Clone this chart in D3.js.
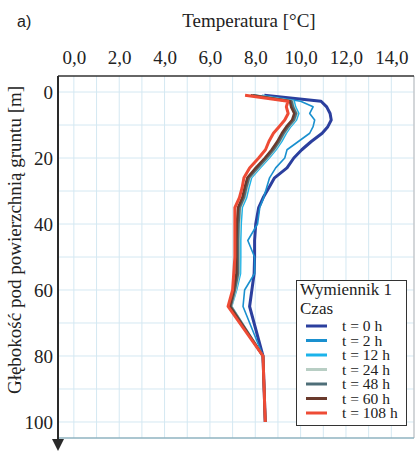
<!DOCTYPE html>
<html>
<head>
<meta charset="utf-8">
<script src="https://cdn.jsdelivr.net/npm/d3@7"></script>
<style>
  body { margin: 0; background: #fff; }
  svg { display: block; }
  text { font-family: "Liberation Serif", "Times New Roman", Times, serif; fill: #222; }
  text.sans { font-family: "Liberation Sans", Arial, sans-serif; }
</style>
</head>
<body>
<div id="chart"></div>
<script>
// depths [m] at which temperature was measured
const depths = [1, 2.8, 4.5, 6.5, 8.5, 10.5, 12.5, 15, 17.5, 20, 23, 26, 29, 32, 35, 40, 45, 50, 55, 60, 65, 80, 100];

// temperature [°C] per series
const t0h   = [8.4, 10.9, 11.15, 11.3, 11.35, 11.2, 10.95, 10.47, 10.05, 9.7, 9.4, 8.85, 8.6, 8.35, 8.15, 8.02, 7.97, 7.97, 7.95, 7.85, 7.75, 8.34, 8.44];
const t2h   = [8.3, 10.0, 10.55, 10.4, 10.62, 10.55, 10.4, 9.9, 9.4, 9.3, 8.9, 8.63, 8.5, 8.37, 8.2, 8.1, 7.67, 7.97, 7.97, 7.53, 7.46, 8.34, 8.44];
const t12h  = [8.0, 9.72, 9.78, 9.92, 9.82, 9.57, 9.37, 9.17, 8.92, 8.62, 8.22, 7.84, 7.72, 7.62, 7.43, 7.38, 7.36, 7.36, 7.35, 7.18, 6.96, 8.34, 8.44];
const t24h  = [7.94, 9.64, 9.7, 9.84, 9.74, 9.49, 9.29, 9.09, 8.84, 8.54, 8.14, 7.76, 7.64, 7.54, 7.35, 7.3, 7.28, 7.28, 7.28, 7.13, 6.94, 8.34, 8.44];
const t48h  = [7.9, 9.6, 9.66, 9.8, 9.7, 9.45, 9.25, 9.05, 8.8, 8.5, 8.1, 7.72, 7.6, 7.5, 7.31, 7.26, 7.24, 7.24, 7.24, 7.1, 6.92, 8.34, 8.44];
const t60h  = [7.8, 9.53, 9.58, 9.72, 9.62, 9.37, 9.17, 8.97, 8.72, 8.42, 8.02, 7.65, 7.53, 7.43, 7.24, 7.19, 7.17, 7.17, 7.17, 7.05, 6.88, 8.34, 8.44];
const t108h = [7.55, 9.44, 9.37, 9.45, 9.3, 9.05, 8.8, 8.6, 8.45, 8.15, 7.75, 7.5, 7.42, 7.3, 7.1, 7.1, 7.1, 7.1, 7.05, 7.0, 6.8, 8.34, 8.44];

const seriesNames = ["t = 0 h", "t = 2 h", "t = 12 h", "t = 24 h", "t = 48 h", "t = 60 h", "t = 108 h"];
const seriesValues = [t0h, t2h, t12h, t24h, t48h, t60h, t108h];
const seriesColors = ["#2b3f9e", "#1a90cf", "#1bb3ea", "#b8cec4", "#4e6e78", "#6a3a2c", "#ee4b35"];
const seriesWidths = [3, 1.6, 1.6, 2.5, 2.5, 2.5, 3];

const xTicks = [0, 2, 4, 6, 8, 10, 12, 14];
const yTicks = [0, 20, 40, 60, 80, 100];

var width = 417;
var height = 452;
var plotLeft = 58, plotRight = 414, plotTop = 76, plotBottom = 438;

var svg = d3.select("#chart")
  .append("svg")
  .attr("width", width)
  .attr("height", height);

var x = d3.scaleLinear().domain([-0.7, 15]).range([plotLeft, plotRight]);
var y = d3.scaleLinear().domain([-4.85, 104.85]).range([plotTop, plotBottom]);

/* grid */
var grid = svg.append("g").attr("stroke", "#d4e8f2").attr("stroke-width", 1);
grid.selectAll(".vg")
  .data(d3.range(0, 15))
  .enter().append("line")
  .attr("x1", d => x(d)).attr("x2", d => x(d))
  .attr("y1", plotTop).attr("y2", plotBottom);
grid.selectAll(".hg")
  .data(d3.range(0, 101, 10))
  .enter().append("line")
  .attr("x1", plotLeft).attr("x2", plotRight)
  .attr("y1", d => y(d)).attr("y2", d => y(d));

/* frame */
svg.append("line").attr("x1", plotRight).attr("x2", plotRight).attr("y1", plotTop).attr("y2", plotBottom)
  .attr("stroke", "#c4c8cc").attr("stroke-width", 1.5);
svg.append("line").attr("x1", plotLeft).attr("x2", plotRight).attr("y1", plotBottom).attr("y2", plotBottom)
  .attr("stroke", "#8fb3c0").attr("stroke-width", 1.5);
svg.append("line").attr("x1", plotLeft).attr("x2", plotRight).attr("y1", plotTop).attr("y2", plotTop)
  .attr("stroke", "#333").attr("stroke-width", 1.5);

/* lines */
var line = d3.line()
  .x(d => x(d[1]))
  .y(d => y(d[0]));

svg.append("g")
  .selectAll("path")
  .data(seriesValues)
  .enter().append("path")
  .attr("d", vals => line(depths.map((dep, i) => [dep, vals[i]])))
  .attr("fill", "none")
  .attr("stroke", (d, i) => seriesColors[i])
  .attr("stroke-width", (d, i) => seriesWidths[i])
  .attr("stroke-linejoin", "round");

/* left axis with arrow */
svg.append("line").attr("x1", plotLeft).attr("x2", plotLeft).attr("y1", plotTop).attr("y2", 442)
  .attr("stroke", "#2a2a2a").attr("stroke-width", 2);
svg.append("path")
  .attr("d", `M${plotLeft - 6},439 L${plotLeft + 6},439 L${plotLeft},451 Z`)
  .attr("fill", "#2a2a2a");

/* axes */
var fmt = v => d3.format(".1f")(v).replace(".", ",");
var xAxis = svg.append("g")
  .attr("transform", `translate(0, ${plotTop})`)
  .call(d3.axisTop(x).tickValues(xTicks).tickSize(0).tickPadding(12).tickFormat(fmt));
xAxis.select(".domain").remove();
xAxis.attr("font-family", null).attr("font-size", 19);

var yAxis = svg.append("g")
  .attr("transform", `translate(${plotLeft}, 0)`)
  .call(d3.axisLeft(y).tickValues(yTicks).tickSize(0).tickPadding(5));
yAxis.select(".domain").remove();
yAxis.attr("font-family", null).attr("font-size", 19);

/* titles */
svg.append("text")
  .attr("class", "sans")
  .attr("x", 17).attr("y", 27)
  .attr("font-size", 16)
  .text("a)");

svg.append("text")
  .attr("x", 249).attr("y", 27)
  .attr("text-anchor", "middle")
  .attr("font-size", 19)
  .text("Temperatura [°C]");

svg.append("text")
  .attr("transform", "translate(21, 240) rotate(-90)")
  .attr("text-anchor", "middle")
  .attr("font-size", 19)
  .text("Głębokość pod powierzchnią gruntu [m]");

/* legend */
var legend = svg.append("g");
legend.append("rect")
  .attr("x", 296.5).attr("y", 280.5).attr("width", 110).attr("height", 145)
  .attr("fill", "#fff").attr("stroke", "#333").attr("stroke-width", 1);
legend.append("text")
  .attr("x", 300).attr("y", 295)
  .attr("font-size", 17)
  .text("Wymiennik 1");
legend.append("text")
  .attr("x", 300).attr("y", 314)
  .attr("font-size", 17)
  .text("Czas");

var rows = legend.selectAll(".row")
  .data(seriesNames)
  .enter().append("g")
  .attr("transform", (d, i) => `translate(0, ${326 + i * 14.5})`);
rows.append("line")
  .attr("x1", 306).attr("x2", 327)
  .attr("stroke", (d, i) => seriesColors[i])
  .attr("stroke-width", 3);
rows.append("text")
  .attr("x", 342).attr("y", 5)
  .attr("font-size", 15.5)
  .text(d => d);
</script>
</body>
</html>
